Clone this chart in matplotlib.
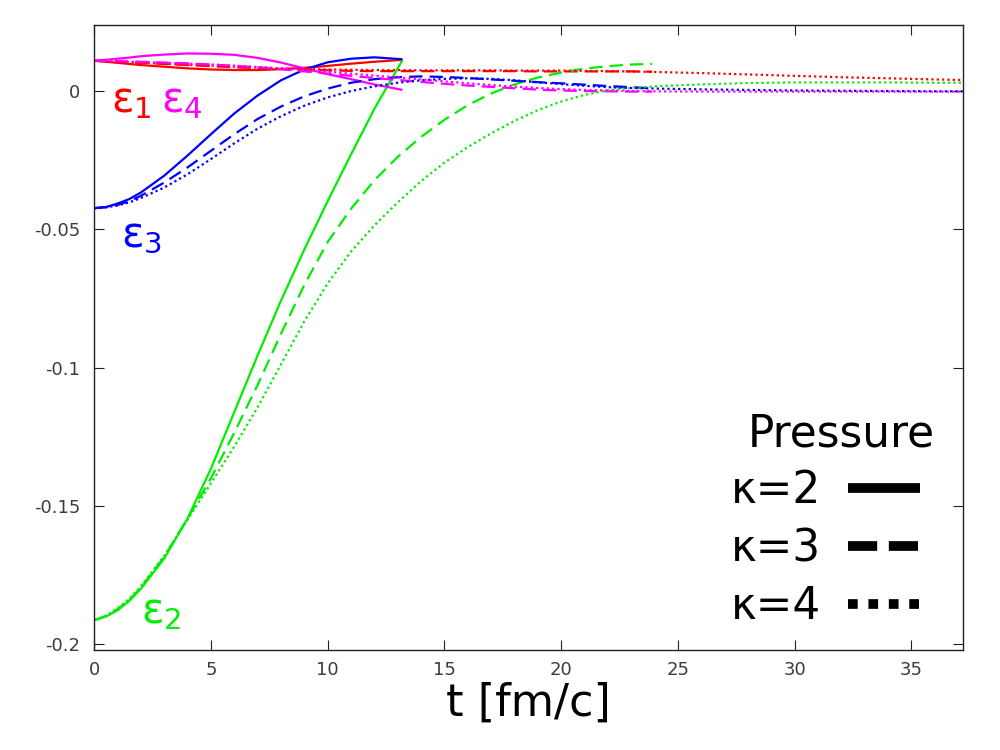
import matplotlib
matplotlib.use("Agg")
import matplotlib.pyplot as plt
from matplotlib.lines import Line2D

# ---------------- data ----------------
# kappa = 2 (solid)
t_k2 = [0, 0.5, 1, 1.5, 2, 3, 4, 5, 6, 7, 8, 9, 10, 11, 12, 13.2]
e1_k2 = [0.0111, 0.0107, 0.0103, 0.0099, 0.0095, 0.0089, 0.0083, 0.0079, 0.0077, 0.0077, 0.0080, 0.0085,
         0.0092, 0.0100, 0.0107, 0.0114]
e2_k2 = [-0.1914, -0.1901, -0.1878, -0.1844, -0.1800, -0.1690, -0.1545, -0.1365, -0.1160, -0.0955, -0.0757,
         -0.0572, -0.0397, -0.0228, -0.0063, 0.0113]
e3_k2 = [-0.0423, -0.0419, -0.0406, -0.0390, -0.0366, -0.0305, -0.0232, -0.0155, -0.0080, -0.0015, 0.0040,
         0.0079, 0.0105, 0.0118, 0.0123, 0.0116]
e4_k2 = [0.0111, 0.0114, 0.0118, 0.0122, 0.0127, 0.0133, 0.0137, 0.0136, 0.0132, 0.0121, 0.0104, 0.0083,
         0.0062, 0.0044, 0.0025, 0.0005]

# kappa = 3 (dashed)
t_k3 = [0, 0.5, 1, 1.5, 2, 3, 4, 5, 6, 7, 8, 9, 10, 11, 12, 13, 14, 15, 16, 17, 18, 19, 20, 21, 22, 23, 23.9]
e1_k3 = [0.0110, 0.0109, 0.0107, 0.0105, 0.0103, 0.0099, 0.0095, 0.0091, 0.0087, 0.0084, 0.0081, 0.0078,
         0.0076, 0.0074, 0.0073, 0.0073, 0.0073, 0.0073, 0.0073, 0.0073, 0.0073, 0.0072, 0.0072, 0.0072,
         0.0072, 0.0072, 0.0071]
e2_k3 = [-0.1914, -0.1899, -0.1874, -0.1840, -0.1796, -0.1684, -0.1545, -0.1400, -0.1235, -0.1062, -0.0877,
         -0.0700, -0.0545, -0.0425, -0.0322, -0.0237, -0.0165, -0.0103, -0.0050, -0.0008, 0.0025, 0.0050,
         0.0068, 0.0082, 0.0091, 0.0097, 0.0099]
e3_k3 = [-0.0423, -0.0419, -0.0411, -0.0398, -0.0378, -0.0330, -0.0275, -0.0215, -0.0155, -0.0100, -0.0055,
         -0.0018, 0.0010, 0.0031, 0.0044, 0.0051, 0.0054, 0.0052, 0.0048, 0.0043, 0.0038, 0.0033, 0.0029,
         0.0024, 0.0019, 0.0015, 0.0011]
e4_k3 = [0.0110, 0.0110, 0.0109, 0.0108, 0.0107, 0.0104, 0.0101, 0.0097, 0.0092, 0.0087, 0.0080, 0.0072,
         0.0064, 0.0056, 0.0048, 0.0041, 0.0034, 0.0027, 0.0021, 0.0016, 0.0011, 0.0006, 0.0003, 0.0001,
         0.0000, -0.0001, -0.0001]

# kappa = 4 (dotted)
t_k4 = [0, 0.5, 1, 1.5, 2, 3, 4, 5, 6, 7, 8, 9, 10, 11, 12, 13, 14, 15, 16, 17, 18, 19, 20, 21, 22, 23, 24,
        26, 28, 30, 32, 34, 36, 37.2]
e1_k4 = [0.0110, 0.0109, 0.0107, 0.0106, 0.0104, 0.0100, 0.0096, 0.0093, 0.0089, 0.0086, 0.0083, 0.0081,
         0.0079, 0.0078, 0.0077, 0.0077, 0.0076, 0.0076, 0.0076, 0.0076, 0.0075, 0.0075, 0.0075, 0.0074,
         0.0073, 0.0072, 0.0070, 0.0066, 0.0061, 0.0056, 0.0051, 0.0047, 0.0043, 0.0041]
e2_k4 = [-0.1914, -0.1898, -0.1871, -0.1836, -0.1791, -0.1680, -0.1550, -0.1418, -0.1285, -0.1143, -0.0988,
         -0.0832, -0.0695, -0.0580, -0.0485, -0.0402, -0.0325, -0.0258, -0.0202, -0.0152, -0.0107, -0.0068,
         -0.0037, -0.0013, 0.0004, 0.0012, 0.0018, 0.0025, 0.0030, 0.0032, 0.0032, 0.0032, 0.0031, 0.0031]
e3_k4 = [-0.0423, -0.0420, -0.0413, -0.0402, -0.0386, -0.0348, -0.0300, -0.0245, -0.0188, -0.0135, -0.0090,
         -0.0052, -0.0022, 0.0001, 0.0018, 0.0031, 0.0040, 0.0045, 0.0047, 0.0045, 0.0040, 0.0033, 0.0026,
         0.0020, 0.0015, 0.0012, 0.0010, 0.0007, 0.0005, 0.0003, 0.0002, 0.0001, 0.0000, 0.0000]
e4_k4 = [0.0110, 0.0109, 0.0108, 0.0107, 0.0106, 0.0103, 0.0100, 0.0097, 0.0093, 0.0088, 0.0083, 0.0077,
         0.0071, 0.0064, 0.0057, 0.0050, 0.0043, 0.0036, 0.0029, 0.0023, 0.0017, 0.0012, 0.0008, 0.0005,
         0.0003, 0.0001, 0.0000, -0.0001, -0.0001, -0.0001, -0.0001, -0.0001, -0.0001, -0.0001]

x_ticks = [0, 5, 10, 15, 20, 25, 30, 35]
y_ticks = [0, -0.05, -0.1, -0.15, -0.2]
y_tick_labels = ["0", "-0.05", "-0.1", "-0.15", "-0.2"]
legend_title = "Pressure"
legend_labels = ["\u03ba=2", "\u03ba=3", "\u03ba=4"]
eps_labels = ["\u03b5$_1$", "\u03b5$_2$", "\u03b5$_3$", "\u03b5$_4$"]

# ---------------- style ----------------
RED, GREEN, BLUE, MAG = "#ff0000", "#00ee00", "#0000ff", "#ff00ff"
LW = 1.6
DASH = (6, 3.2)
DOT = (1, 1.4)

plt.rcParams["font.family"] = ["DejaVu Sans"]
plt.rcParams["mathtext.fontset"] = "dejavusans"

fig = plt.figure(figsize=(10, 7.5), dpi=100)
ax = fig.add_axes([0.0943, 0.13333, 0.8684, 0.83334])

series = [
    (t_k2, [e1_k2, e2_k2, e3_k2, e4_k2], None),
    (t_k3, [e1_k3, e2_k3, e3_k3, e4_k3], DASH),
    (t_k4, [e1_k4, e2_k4, e3_k4, e4_k4], DOT),
]
colors = [RED, GREEN, BLUE, MAG]
for t, ys, dash in series:
    for y, c in zip(ys, colors):
        ln, = ax.plot(t, y, color=c, lw=LW, solid_capstyle="butt", solid_joinstyle="round")
        if dash is not None:
            ln.set_dashes(dash)

ax.set_xlim(0, 37.2)
ax.set_ylim(-0.2022, 0.024)
ax.set_xticks(x_ticks)
ax.set_xticklabels([str(v) for v in x_ticks])
ax.set_yticks(y_ticks)
ax.set_yticklabels(y_tick_labels)
ax.tick_params(axis="both", which="both", direction="in", length=7.5, width=0.8,
               top=True, right=True, labelsize=13, labelcolor="#3c3c3c", color="#222222")
ax.tick_params(axis="y", pad=10)
ax.tick_params(axis="x", pad=8)
for s in ax.spines.values():
    s.set_linewidth(1.0)
    s.set_color("#222222")

ax.set_xlabel("t [fm/c]", fontsize=32, labelpad=2)

# curve labels
ax.text(0.72, -0.0075, eps_labels[0], color=RED, fontsize=30, ha="left", va="baseline")
ax.text(2.86, -0.0075, eps_labels[3], color=MAG, fontsize=30, ha="left", va="baseline")
ax.text(1.15, -0.0564, eps_labels[2], color=BLUE, fontsize=30, ha="left", va="baseline")
ax.text(2.0, -0.1925, eps_labels[1], color=GREEN, fontsize=30, ha="left", va="baseline")

# legend
h2 = Line2D([], [], color="black", lw=7, solid_capstyle="butt")
h3 = Line2D([], [], color="black", lw=7, dash_capstyle="butt")
h3.set_dashes((3, 1.2))
h4 = Line2D([], [], color="black", lw=7, dash_capstyle="butt")
h4.set_dashes((1, 1.1))
leg = ax.legend([h2, h3, h4], legend_labels, loc="lower right",
                bbox_to_anchor=(0.951, 0.035), borderaxespad=0, borderpad=0,
                frameon=False, markerfirst=False, fontsize=31.5,
                handlelength=1.65, handletextpad=0.62, labelspacing=0.34)
ax.text(0.860, 0.3253, legend_title, transform=ax.transAxes, fontsize=31.5,
        ha="center", va="baseline", color="black")

fig.savefig("out.png", dpi=100)
